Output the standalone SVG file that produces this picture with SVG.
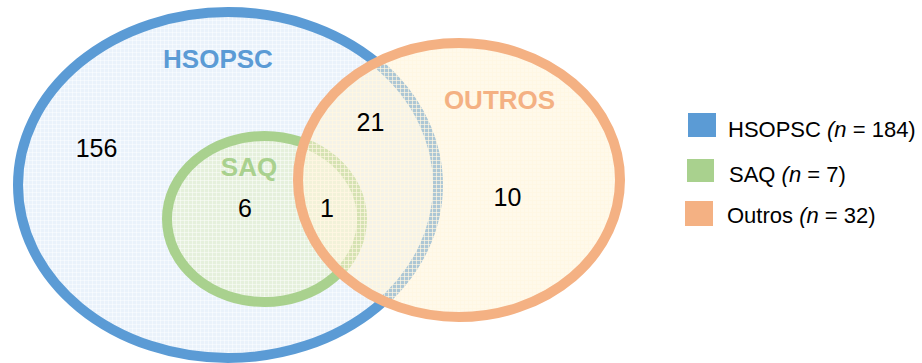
<svg xmlns="http://www.w3.org/2000/svg" width="922" height="363" viewBox="0 0 922 363">
  <style>
    .set-label { font-family: "Liberation Sans", Arial, sans-serif; font-weight: bold; font-size: 26px; text-anchor: middle; }
    .count { font-family: "Liberation Sans", Arial, sans-serif; font-size: 25px; fill: #000; text-anchor: middle; }
    .legend-text { font-family: "Liberation Sans", Arial, sans-serif; font-size: 22px; fill: #000; }
    .ring { stroke-width: 10; }
  </style>
  <defs>
    <!-- fine grid texture used inside the set areas -->
    <pattern id="gridLight" width="4" height="4" patternUnits="userSpaceOnUse">
      <path d="M0 0.5H4M0.5 0V4" stroke="#ffffff" stroke-width="1" stroke-opacity="0.45" fill="none"/>
    </pattern>
    <pattern id="gridCream" width="4" height="4" patternUnits="userSpaceOnUse">
      <path d="M0 0.5H4M0.5 0V4" stroke="#fff7e2" stroke-width="1" stroke-opacity="0.7" fill="none"/>
    </pattern>
  </defs>

  <!-- HSOPSC set -->
  <g id="hsopsc">
    <ellipse cx="228" cy="185" rx="210" ry="173" fill="#eaf2fb"/>
    <ellipse cx="228" cy="185" rx="210" ry="173" fill="url(#gridLight)"/>
    <ellipse class="ring" cx="228" cy="185" rx="210" ry="173" fill="none" stroke="#5b9bd5"/>
    <text class="set-label" x="218" y="68" fill="#5b9bd5">HSOPSC</text>
  </g>

  <!-- SAQ set -->
  <g id="saq">
    <ellipse cx="264.5" cy="219" rx="97.5" ry="83" fill="#e5f0dc"/>
    <ellipse cx="264.5" cy="219" rx="97.5" ry="83" fill="url(#gridLight)"/>
    <ellipse class="ring" cx="264.5" cy="219" rx="97.5" ry="83" fill="none" stroke="#a9d18e"/>
    <text class="set-label" x="249" y="176" fill="#a9d18e">SAQ</text>
  </g>

  <!-- OUTROS set: translucent fill over the other two -->
  <g id="outros">
    <ellipse cx="459" cy="180" rx="161" ry="137" fill="#fff3d6" fill-opacity="0.5"/>
    <ellipse cx="459" cy="180" rx="161" ry="137" fill="url(#gridCream)"/>
    <ellipse class="ring" cx="459" cy="180" rx="161" ry="137" fill="none" stroke="#f4b183"/>
    <text class="set-label" x="499.5" y="109" fill="#f4b183">OUTROS</text>
  </g>

  <!-- region counts -->
  <g id="counts">
    <text class="count" x="96.5" y="157">156</text>
    <text class="count" x="370.5" y="131">21</text>
    <text class="count" x="245" y="217">6</text>
    <text class="count" x="327" y="217">1</text>
    <text class="count" x="507.5" y="206">10</text>
  </g>

  <!-- legend -->
  <g id="legend">
    <g id="legend-hsopsc">
      <rect x="688" y="113" width="28" height="24" fill="#5b9bd5"/>
      <text class="legend-text" x="728" y="137">HSOPSC <tspan font-style="italic">(n</tspan> = 184)</text>
    </g>
    <g id="legend-saq">
      <rect x="687" y="159" width="27" height="23" fill="#a9d18e"/>
      <text class="legend-text" x="729" y="182">SAQ <tspan font-style="italic">(n</tspan> = 7)</text>
    </g>
    <g id="legend-outros">
      <rect x="685" y="201" width="28" height="25" fill="#f4b183"/>
      <text class="legend-text" x="727" y="223">Outros <tspan font-style="italic">(n</tspan> = 32)</text>
    </g>
  </g>
</svg>
